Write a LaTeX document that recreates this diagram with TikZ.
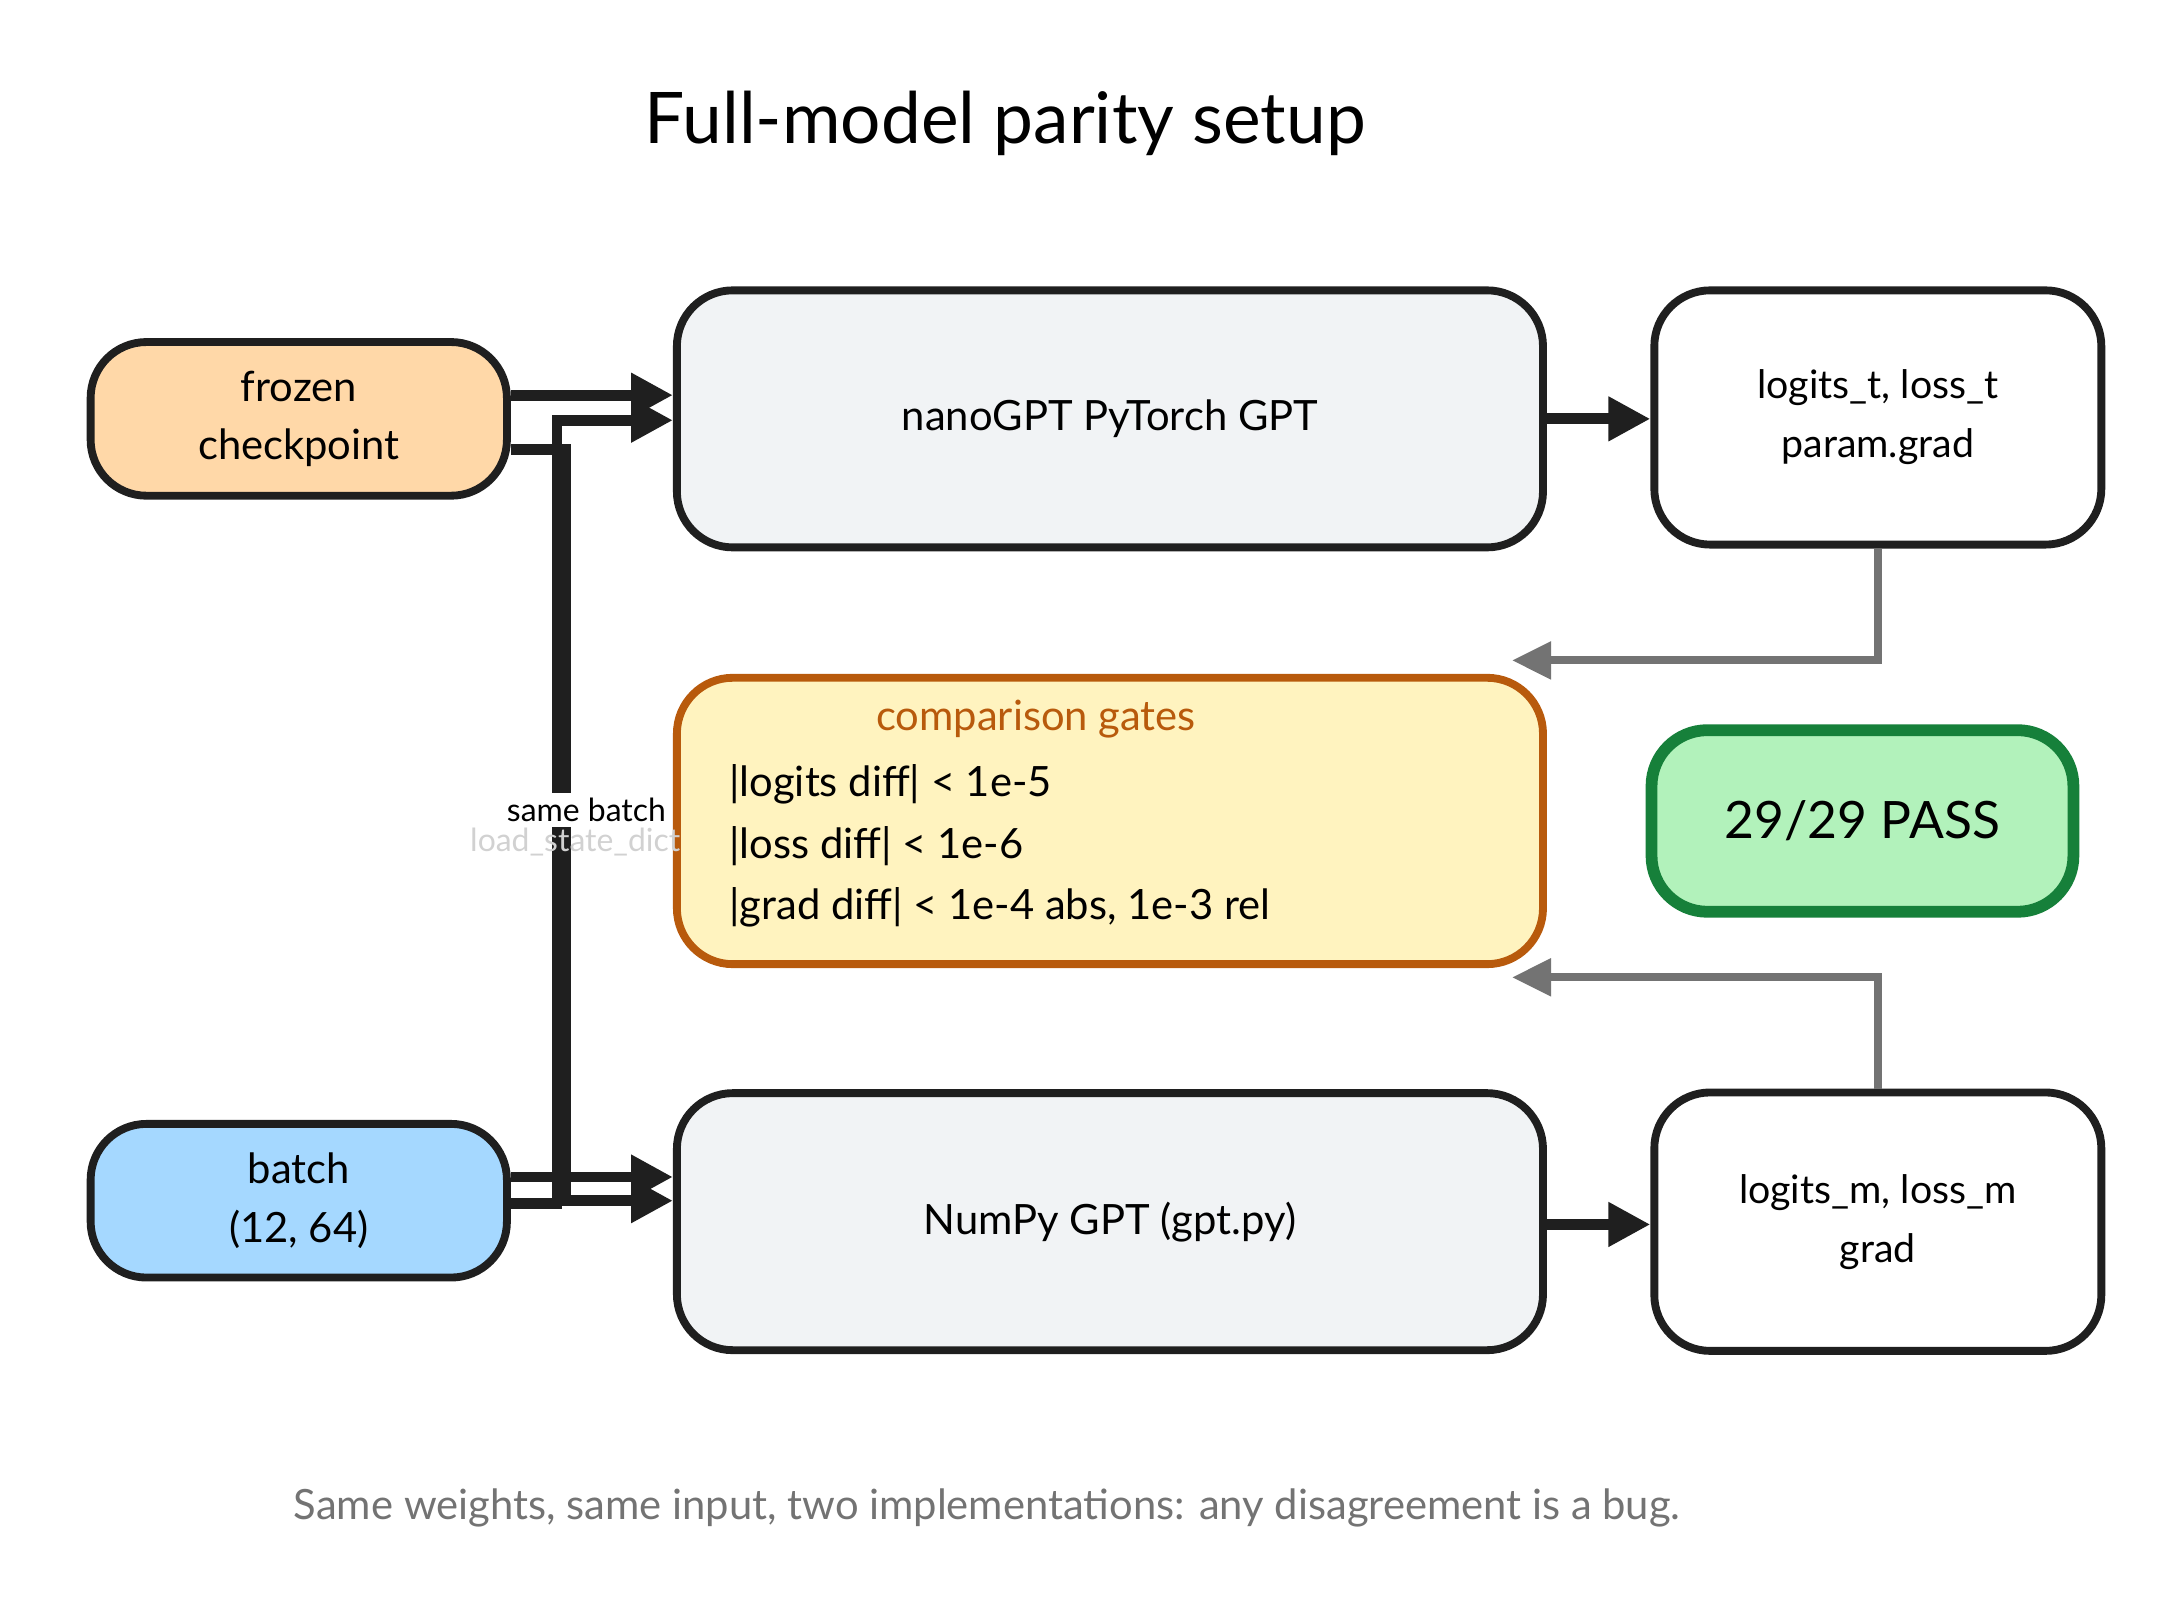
\documentclass[tikz,border=0pt]{standalone}
\usepackage{fontspec}
\setmainfont{Lato}
\usetikzlibrary{arrows.meta}
\definecolor{ckpt}{HTML}{FFD8A8}
\definecolor{batchc}{HTML}{A5D8FF}
\definecolor{model}{HTML}{F1F3F5}
\definecolor{gate}{HTML}{FFF3BF}
\definecolor{gated}{HTML}{B85A0C}
\definecolor{pass}{HTML}{B2F2BB}
\definecolor{passd}{HTML}{16803A}
\tikzset{
  box/.style={draw=black!88,line width=1.6pt,rounded corners=0.4cm,align=center,font=\fontsize{8.5}{12}\selectfont},
  wire/.style={draw=black!88,line width=2.2pt,-{Triangle[length=0.3cm,width=0.3cm]}},
  back/.style={draw=black!55,line width=1.6pt,-{Triangle[length=0.28cm,width=0.26cm]}}
}
\begin{document}
\begin{tikzpicture}[x=0.01cm,y=-0.01cm]
            \useasboundingbox (0,0) rectangle (1560,1159.6);
            \node[font=\fontsize{14.5}{17}\selectfont] (title) at (720,88) {Full-model parity setup};
            % inputs
            \node[box,fill=ckpt,minimum width=2.98cm,minimum height=1.1cm] (ckpt) at (214,300) {frozen\\checkpoint};
            \node[box,fill=batchc,minimum width=2.98cm,minimum height=1.1cm] (batch) at (214,860) {batch\\(12, 64)};
            % models
            \node[box,fill=model,minimum width=6.2cm,minimum height=1.84cm] (torch) at (795,300) {nanoGPT PyTorch GPT};
            \node[box,fill=model,minimum width=6.2cm,minimum height=1.84cm] (numpy) at (795,875) {NumPy GPT (gpt.py)};
            % outputs
            \node[box,minimum width=3.2cm,minimum height=1.82cm,font=\fontsize{8}{12}\selectfont] (outt) at (1345,299) {logits\_t, loss\_t\\param.grad};
            \node[box,minimum width=3.2cm,minimum height=1.85cm,font=\fontsize{8}{12}\selectfont] (outm) at (1345,875) {logits\_m, loss\_m\\grad};
            % gates
            \node[box,draw=gated,fill=gate,minimum width=6.2cm,minimum height=2.05cm] (gates) at (795,588) {};
            \node[text=gated,font=\fontsize{8.5}{10}\selectfont] (gtitle) at (742,515) {comparison gates};
            \node[anchor=west,font=\fontsize{8.5}{10}\selectfont] (g1) at (510,562) {|logits diff| < 1e-5};
            \node[anchor=west,font=\fontsize{8.5}{10}\selectfont] (g2) at (510,606) {|loss diff| < 1e-6};
            \node[anchor=west,font=\fontsize{8.5}{10}\selectfont] (g3) at (510,650) {|grad diff| < 1e-4 abs, 1e-3 rel};
            \node[box,draw=passd,fill=pass,line width=2.4pt,minimum width=3.02cm,minimum height=1.3cm,font=\fontsize{10.5}{12}\selectfont] (pass) at (1334,588) {29/29 PASS};
            % wires
            \draw[wire] (ckpt.east|-0,283) -- (torch.west|-0,283);
            \draw[wire] (batch.east|-0,843) -- (numpy.west|-0,843);
            \draw[wire] (ckpt.east|-0,322) -| (405,860) -- (numpy.west|-0,860);
            \draw[wire] (batch.east|-0,862) -| (399,301) -- (torch.west|-0,301);
            \node[text=black!18,font=\fontsize{6.5}{8}\selectfont] (lsd) at (412,603) {load\_state\_dict};
            \node[fill=white,inner sep=1pt,font=\fontsize{6.5}{8}\selectfont] (same) at (420,580) {same batch};
            \draw[wire] (torch.east) -- (outt.west|-torch.east);
            \draw[wire] (numpy.east|-0,877) -- (outm.west|-0,877);
            \draw[back] (outt.south) -- (1345,473) -- (1083,473);
            \draw[back] (outm.north) -- (1345,700) -- (1083,700);
            \node[text=black!55,font=\fontsize{8.5}{10}\selectfont] (foot) at (707,1080) {Same weights, same input, two implementations: any disagreement is a bug.};
        \end{tikzpicture}
\end{document}
